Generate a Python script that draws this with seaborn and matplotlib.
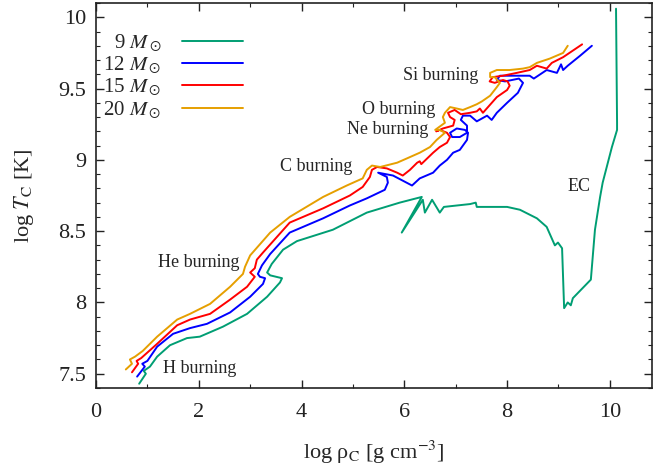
import matplotlib
matplotlib.use("Agg")
import matplotlib.pyplot as plt
from matplotlib.ticker import MultipleLocator, FuncFormatter
import seaborn as sns
import pandas as pd

sns.set_theme(style="ticks")
plt.rcParams['font.family'] = ['Liberation Serif', 'DejaVu Serif']
plt.rcParams['mathtext.fontset'] = 'stix'

# log rho_C, log T_C
rho_9 = [0.84, 0.97, 0.93, 1.05, 1.19, 1.44, 1.77, 2.02, 2.47, 2.94, 3.33, 3.58, 3.62,
         3.39, 3.33, 3.42, 3.64, 3.91, 4.61, 5.27, 5.91, 6.34, 5.95, 6.36, 6.40, 6.54,
         6.69, 6.77, 7.28, 7.39, 7.41, 8.00, 8.25, 8.58, 8.77, 8.93, 8.99, 9.07, 9.11,
         9.18, 9.24, 9.28, 9.63, 9.71, 9.81, 9.86, 10.04, 10.14, 10.14, 10.12]
T_9 = [7.43, 7.50, 7.52, 7.55, 7.62, 7.70, 7.75, 7.76, 7.83, 7.92, 8.04, 8.14, 8.17,
       8.19, 8.21, 8.27, 8.37, 8.43, 8.51, 8.63, 8.70, 8.74, 8.49, 8.72, 8.63, 8.72,
       8.63, 8.67, 8.69, 8.70, 8.67, 8.67, 8.65, 8.59, 8.53, 8.40, 8.42, 8.38, 7.96,
       8.00, 7.98, 8.03, 8.16, 8.51, 8.74, 8.84, 9.09, 9.21, 9.26, 10.06]

rho_12 = [0.80, 0.95, 0.90, 1.00, 1.19, 1.50, 1.83, 2.16, 2.61, 3.00, 3.25, 3.29, 3.19,
          3.15, 3.23, 3.39, 3.77, 4.42, 4.94, 5.27, 5.62, 5.68, 5.66, 5.49, 5.78, 6.15,
          6.30, 6.56, 6.69, 6.83, 6.95, 7.08, 7.22, 7.24, 7.18, 7.02, 6.89, 6.93, 7.08,
          7.22, 7.22, 7.10, 7.14, 7.28, 7.41, 7.61, 7.70, 7.80, 8.00, 8.21, 8.31, 8.23,
          7.96, 7.80, 7.86, 8.15, 8.44, 8.52, 8.77, 8.97, 9.05, 9.09, 9.18, 9.42, 9.65]
T_12 = [7.48, 7.55, 7.57, 7.59, 7.69, 7.78, 7.82, 7.85, 7.93, 8.04, 8.13, 8.17, 8.18,
        8.20, 8.26, 8.34, 8.49, 8.59, 8.68, 8.73, 8.79, 8.84, 8.88, 8.91, 8.89, 8.82,
        8.87, 8.91, 8.96, 9.00, 9.05, 9.07, 9.14, 9.19, 9.21, 9.22, 9.19, 9.16, 9.16,
        9.19, 9.24, 9.28, 9.31, 9.31, 9.27, 9.31, 9.28, 9.33, 9.40, 9.47, 9.54, 9.57,
        9.55, 9.56, 9.59, 9.59, 9.59, 9.57, 9.63, 9.61, 9.67, 9.63, 9.66, 9.73, 9.80]

rho_15 = [0.70, 0.82, 0.79, 0.88, 1.19, 1.58, 1.83, 2.22, 2.61, 2.94, 3.09, 3.00, 3.09,
          3.13, 3.25, 3.77, 4.42, 4.94, 5.19, 5.33, 5.37, 5.47, 5.66, 5.86, 5.97, 6.11,
          6.25, 6.30, 6.33, 6.56, 6.69, 6.83, 6.89, 6.83, 6.69, 6.62, 6.75, 6.95, 6.98,
          6.89, 6.85, 6.98, 7.10, 7.28, 7.41, 7.47, 7.53, 7.80, 8.00, 8.05, 8.01, 7.92,
          7.76, 7.66, 7.72, 7.92, 8.19, 8.44, 8.58, 8.77, 8.87, 9.09, 9.46]
T_15 = [7.51, 7.57, 7.59, 7.61, 7.71, 7.84, 7.88, 7.92, 8.02, 8.11, 8.18, 8.21, 8.24,
        8.30, 8.35, 8.56, 8.66, 8.75, 8.81, 8.88, 8.93, 8.95, 8.94, 8.91, 8.89, 8.93,
        8.98, 8.99, 8.97, 9.05, 9.09, 9.12, 9.16, 9.19, 9.21, 9.20, 9.22, 9.24, 9.28,
        9.30, 9.33, 9.35, 9.32, 9.33, 9.34, 9.36, 9.33, 9.44, 9.49, 9.52, 9.55, 9.56,
        9.54, 9.55, 9.58, 9.59, 9.61, 9.63, 9.66, 9.64, 9.68, 9.72, 9.81]

rho_20 = [0.58, 0.70, 0.66, 0.76, 0.91, 1.19, 1.58, 1.83, 2.22, 2.61, 2.86, 2.90, 3.00,
          3.39, 3.77, 4.42, 4.88, 5.19, 5.27, 5.37, 5.53, 5.86, 6.05, 6.30, 6.50, 6.63,
          6.79, 6.69, 6.60, 6.79, 6.75, 6.79, 6.89, 7.02, 7.14, 7.28, 7.41, 7.51, 7.67,
          7.80, 7.86, 7.76, 7.67, 7.67, 7.80, 8.05, 8.31, 8.44, 8.58, 8.83, 9.09, 9.18]
T_20 = [7.53, 7.57, 7.60, 7.62, 7.66, 7.76, 7.88, 7.92, 7.99, 8.11, 8.20, 8.25, 8.33,
        8.49, 8.60, 8.74, 8.82, 8.87, 8.93, 8.96, 8.95, 8.98, 9.01, 9.05, 9.09, 9.14,
        9.19, 9.21, 9.21, 9.26, 9.30, 9.33, 9.37, 9.36, 9.35, 9.37, 9.39, 9.41, 9.45,
        9.51, 9.54, 9.58, 9.58, 9.61, 9.63, 9.63, 9.64, 9.65, 9.68, 9.71, 9.75, 9.80]

masses = ['9', '12', '15', '20']
colors = ['#009e73', '#0000ff', '#ff0000', '#e69f00']

frames = []
for m, r, t in zip(masses, [rho_9, rho_12, rho_15, rho_20], [T_9, T_12, T_15, T_20]):
    frames.append(pd.DataFrame({'rho': r, 'T': t, 'mass': m + r' $M_\odot$'}))
df = pd.concat(frames, ignore_index=True)

labels = ['H burning', 'He burning', 'C burning', 'Ne burning', 'O burning', 'Si burning', 'EC']
label_x = [1.30, 1.21, 3.58, 4.88, 5.18, 5.97, 9.18]
label_y = [7.54, 8.28, 8.95, 9.21, 9.35, 9.59, 8.81]

fig = plt.figure(figsize=(6.55, 4.68), dpi=100)
ax = fig.add_axes([96 / 655, 1 - 388 / 468, 556 / 655, 385 / 468])

sns.lineplot(data=df, x='rho', y='T', hue='mass', palette=colors, sort=False,
             estimator=None, linewidth=1.4, ax=ax)

for s, x, y in zip(labels, label_x, label_y):
    ax.text(x, y, s, fontsize=13, va='center', ha='left')

ax.set_xlim(0, 10.82)
ax.set_ylim(7.4, 10.1)
ax.xaxis.set_major_locator(MultipleLocator(2))
ax.xaxis.set_minor_locator(MultipleLocator(1))
ax.yaxis.set_major_locator(MultipleLocator(0.5))
ax.yaxis.set_minor_locator(MultipleLocator(0.1))
ax.xaxis.set_major_formatter(FuncFormatter(lambda v, p: '%g' % v))
ax.yaxis.set_major_formatter(FuncFormatter(lambda v, p: '%g' % v))
ax.tick_params(which='both', direction='in', top=True, right=True, labelsize=16, colors='#222222')
ax.tick_params(which='major', length=6, width=1)
ax.tick_params(which='minor', length=3, width=0.8)
ax.tick_params(axis='x', pad=11)
ax.tick_params(axis='y', pad=7)
for t in ax.get_xticklabels() + ax.get_yticklabels():
    t.set_family(['Liberation Serif', 'DejaVu Serif'])
for sp in ax.spines.values():
    sp.set_linewidth(1.2)
    sp.set_color('#222222')

ax.set_xlabel(r'log ρ$_\mathrm{C}$ [g cm$^{\mathrm{-3}}$]', fontsize=16, labelpad=12)
ax.set_ylabel(r'log $T_\mathrm{C}$ [K]', fontsize=16, labelpad=16)

leg = ax.legend(loc='upper right', bbox_to_anchor=(0.264, 0.924), frameon=False,
                fontsize=15, markerfirst=False, handlelength=2.9, handletextpad=1.0,
                labelspacing=0.05, borderpad=0, borderaxespad=0)
for t in leg.get_texts():
    t.set_ha('right')

fig.savefig('out.png', dpi=100)
